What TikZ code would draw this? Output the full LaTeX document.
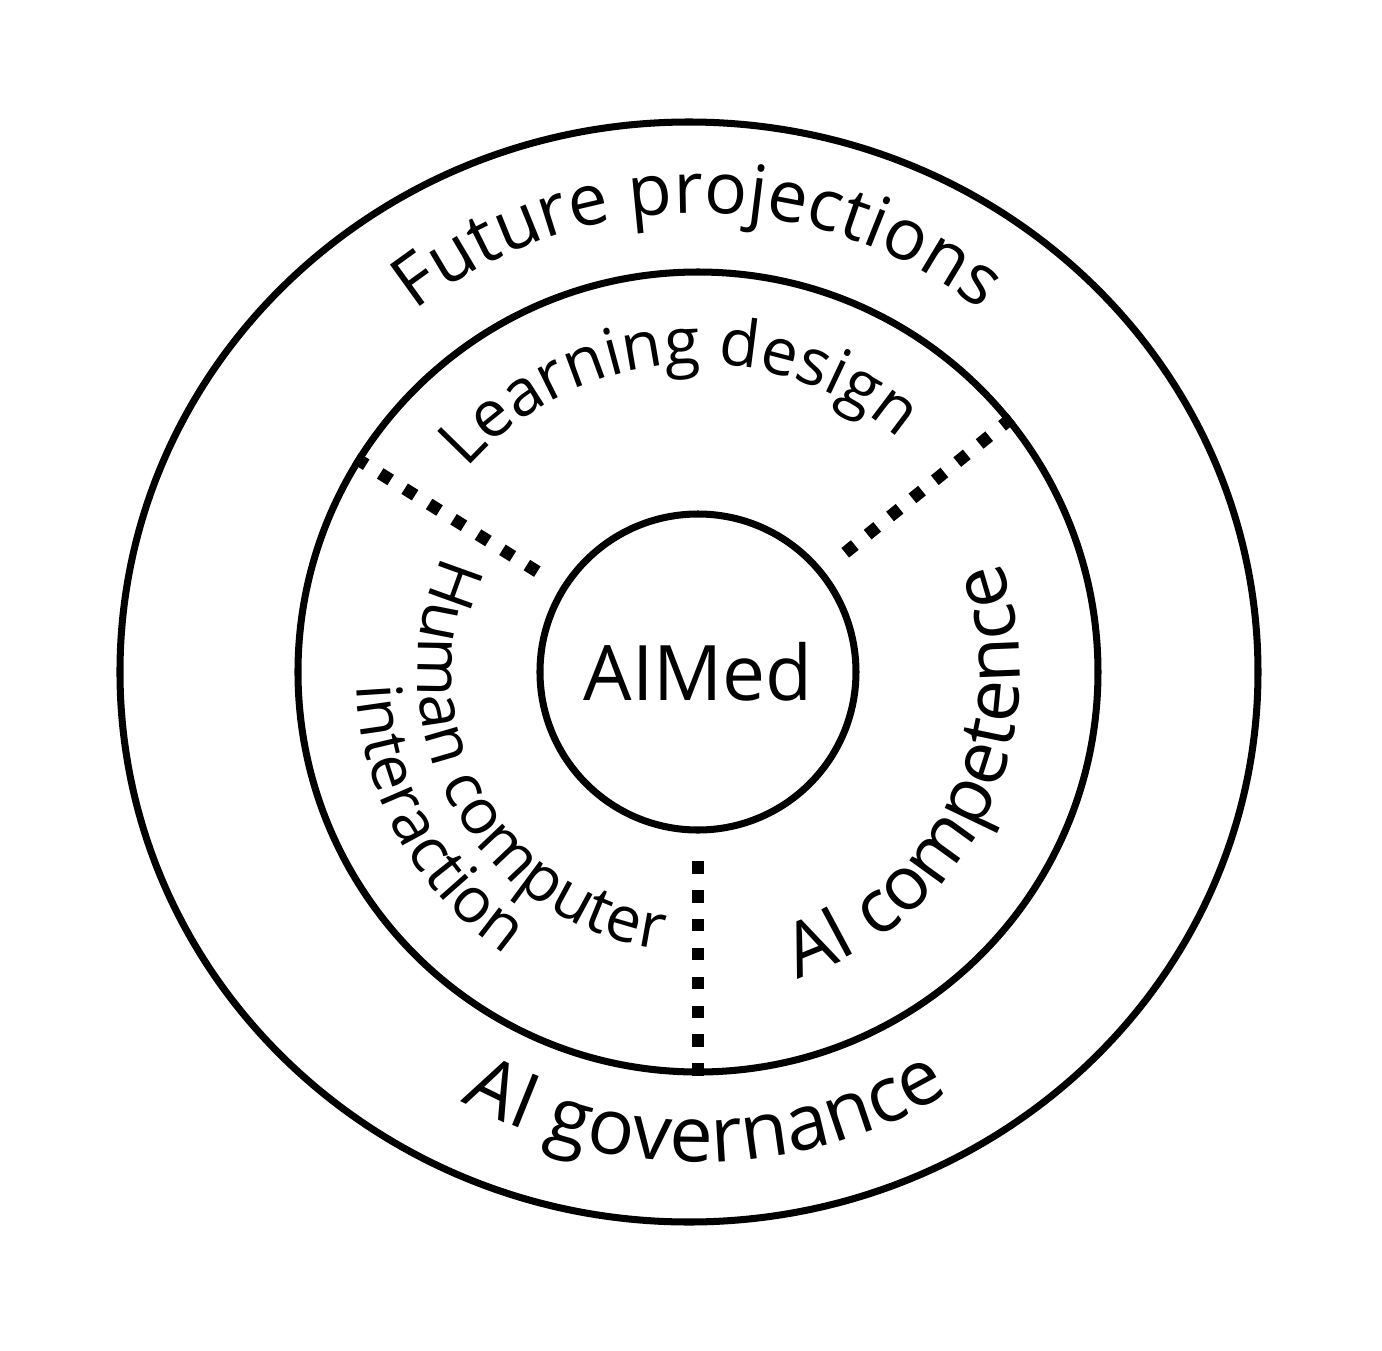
\documentclass[tikz,border=0pt]{standalone}
\usepackage{fontspec}
\setmainfont{Open Sans}
\usetikzlibrary{shapes.geometric,decorations.text}
\newcommand{\ringfont}[1]{\fontsize{#1}{#1}\selectfont}
\begin{document}
\begin{tikzpicture}[line width=2pt,
  ring/.style={circle,draw,inner sep=0pt},
  divider/.style={line width=3.5pt,dash pattern=on 3.5pt off 4.7pt,shorten >=0.12cm},
  curved/.style 2 args={decorate,decoration={text along path,text align=center,text={|\ringfont{#1}|#2}}}]
\useasboundingbox (-6.98,-6.78) rectangle (6.84,6.72);
% three nested rings
\node[ellipse,draw,inner sep=0pt,minimum width=11.38cm,minimum height=11cm] (outer) at (-0.09,0) {};
\node[ring,minimum size=8cm] (mid) at (0,0) {};
\node[ring,minimum size=3.16cm,font=\ringfont{21.8}] (core) at (0,0) {AIMed};
% dotted separators
\draw[divider] (mid.148) -- (core.148);
\draw[divider] (mid.39.5) -- (core.39.5);
\draw[divider] (mid.270) -- (core.270);
% labels along the rings
\path[curved={20.3}{Future projections}] (180:4.59) arc[start angle=180,end angle=0,radius=4.59];
\path[curved={22}{AI governance}] (181:4.9) arc[start angle=181,end angle=361,radius=4.9];
\path[curved={18.5}{Learning design}] (184:3.08) arc[start angle=184,end angle=4,radius=3.08];
\path[curved={21.3}{AI competence}] (-116:3.22) arc[start angle=-116,end angle=64,radius=3.22];
\path[curved={18}{Human computer}] (119:2.8) arc[start angle=119,end angle=299,radius=2.8];
\path[curved={18}{interaction}] (119:3.42) arc[start angle=119,end angle=299,radius=3.42];
\end{tikzpicture}
\end{document}
